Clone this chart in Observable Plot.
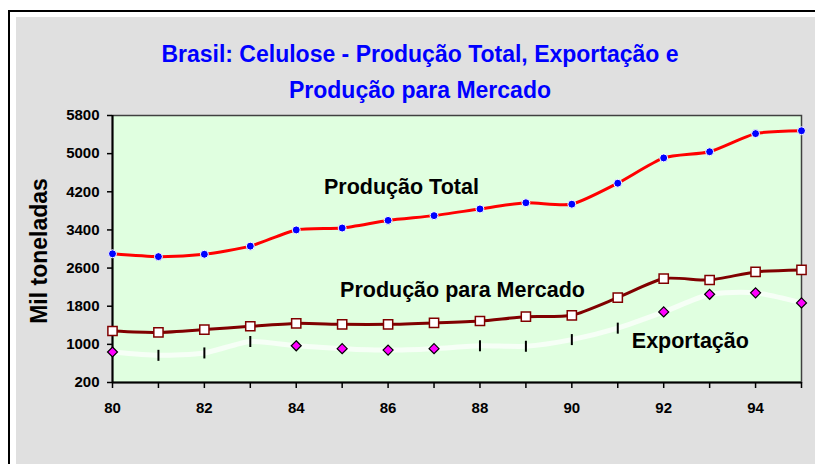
<!DOCTYPE html>
<html>
<head>
<meta charset="utf-8">
<script src="https://cdn.jsdelivr.net/npm/d3@7"></script>
<script src="https://cdn.jsdelivr.net/npm/@observablehq/plot@0.6"></script>
<style>
  html, body { margin: 0; padding: 0; background: #fff; }
  #wrap { position: relative; width: 815px; height: 464px; overflow: hidden; font-family: "Liberation Sans", Arial, sans-serif; }
  #border { position: absolute; left: 8px; top: 10px; width: 830px; height: 480px; border-left: 2px solid #000; border-top: 2px solid #000; }
  #grey { position: absolute; left: 16px; top: 17px; right: 0; bottom: 0; background: #e0e0e0; }
  #title { position: absolute; left: 0; top: 36px; width: 840px; text-align: center; font-size: 23px; font-weight: bold; line-height: 36px; color: #0000ff; }
  #chart { position: absolute; left: 0; top: 0; }
</style>
</head>
<body>
<div id="wrap">
  <div id="border"></div>
  <div id="grey"></div>
  <div id="chart"></div>
  <div id="title">Brasil: Celulose - Produção Total, Exportação e<br>Produção para Mercado</div>
</div>
<script>
const years = [80, 81, 82, 83, 84, 85, 86, 87, 88, 89, 90, 91, 92, 93, 94, 95];
const producaoTotal = [2900, 2840, 2890, 3060, 3400, 3440, 3600, 3700, 3840, 3970, 3940, 4380, 4910, 5040, 5420, 5480];
const producaoMercado = [1280, 1250, 1310, 1380, 1440, 1420, 1420, 1450, 1490, 1580, 1610, 1980, 2380, 2350, 2520, 2560];
const exportacao = [840, 770, 820, 1060, 970, 910, 880, 910, 970, 960, 1100, 1340, 1680, 2050, 2080, 1870];
const exportMarker = ["d", "t", "t", "t", "d", "d", "d", "d", "t", "t", "t", "t", "d", "d", "d", "d"];
const yTicks = [200, 1000, 1800, 2600, 3400, 4200, 5000, 5800];
const xLabeled = [80, 82, 84, 86, 88, 90, 92, 94];
const seriesLabels = [
  {text: "Produção Total", x: 86.29, y: 4290},
  {text: "Produção para Mercado", x: 87.62, y: 2140},
  {text: "Exportação", x: 92.58, y: 1060}
];

const total = years.map((x, i) => ({x, y: producaoTotal[i]}));
const mercado = years.map((x, i) => ({x, y: producaoMercado[i]}));
const exp = years.map((x, i) => ({x, y: exportacao[i], m: exportMarker[i]}));

const vline = {
  draw(context, size) {
    const r = Math.sqrt(size / Math.PI);
    context.moveTo(0, -r);
    context.lineTo(0, r);
  }
};

const font = '"Liberation Sans", Arial, sans-serif';
const curve = "cardinal";
const tension = 0.35;

const chart = Plot.plot({
  width: 815,
  height: 464,
  marginLeft: 112,
  marginRight: 14,
  marginTop: 115,
  marginBottom: 82,
  style: {background: "transparent", overflow: "visible", fontFamily: font, fontSize: "15px", fontWeight: "bold", color: "#000"},
  x: {domain: [80, 95]},
  y: {domain: [200, 5800]},
  marks: [
    Plot.frame({fill: "#e0ffe0", stroke: "#404040", strokeWidth: 1.5}),
    Plot.axisY({ticks: yTicks, tickSize: 5, tickPadding: 8, tickFormat: d3.format("d"), label: null, fontSize: 15, fontWeight: "bold", strokeWidth: 1.5}),
    Plot.axisX({ticks: years, tickSize: 6, tickPadding: 14, tickFormat: d => xLabeled.includes(d) ? String(d) : "", label: null, fontSize: 15, fontWeight: "bold", strokeWidth: 1.5}),
    Plot.ruleX([80], {stroke: "#000", strokeWidth: 2}),
    Plot.ruleY([200], {stroke: "#000", strokeWidth: 2}),
    Plot.text(["Mil toneladas"], {frameAnchor: "left", rotate: -90, dx: -73, dy: 2, fontSize: 23, fontWeight: "bold", fill: "#000", textAnchor: "middle", lineAnchor: "middle"}),
    // Exportação
    Plot.line(exp, {x: "x", y: "y", stroke: "#f6fff6", strokeWidth: 5, curve, tension}),
    Plot.dot(exp.filter(d => d.m === "t"), {x: "x", y: "y", symbol: vline, r: 5.5, stroke: "#000", strokeWidth: 2}),
    Plot.dot(exp.filter(d => d.m === "d"), {x: "x", y: "y", symbol: "diamond2", r: 4.5, fill: "#ff00ff", stroke: "#000", strokeWidth: 1.2}),
    // Produção para Mercado
    Plot.line(mercado, {x: "x", y: "y", stroke: "#800000", strokeWidth: 3, curve, tension}),
    Plot.dot(mercado, {x: "x", y: "y", symbol: "square", r: 5.2, fill: "#fff", stroke: "#800000", strokeWidth: 1.5}),
    // Produção Total
    Plot.line(total, {x: "x", y: "y", stroke: "#ff0000", strokeWidth: 3, curve, tension}),
    Plot.dot(total, {x: "x", y: "y", r: 4, fill: "#0000ff", stroke: "#fff", strokeWidth: 1}),
    // labels
    Plot.text(seriesLabels, {x: "x", y: "y", text: "text", fontSize: 21.5, fontWeight: "bold", fill: "#000", textAnchor: "middle", lineAnchor: "middle"})
  ]
});
document.getElementById("chart").appendChild(chart);
</script>
</body>
</html>
